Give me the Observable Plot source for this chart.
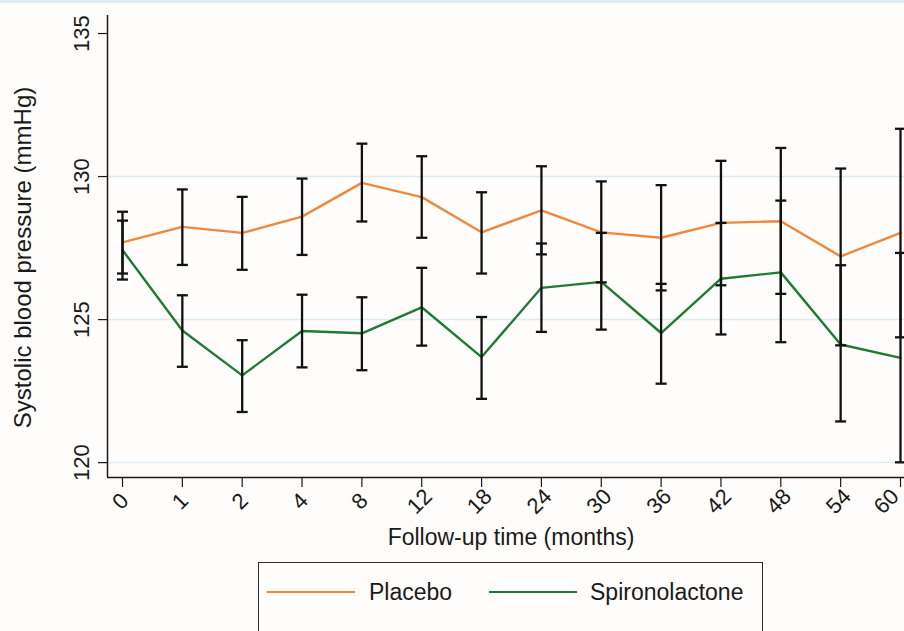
<!DOCTYPE html>
<html>
<head>
<meta charset="utf-8">
<script src="https://cdn.jsdelivr.net/npm/d3@7"></script>
<script src="https://cdn.jsdelivr.net/npm/@observablehq/plot@0.6"></script>
<style>
  html, body { margin: 0; padding: 0; background: #fffdfb; }
  #wrap { position: relative; width: 904px; height: 631px; overflow: hidden;
          font-family: "Liberation Sans", Arial, Helvetica, sans-serif; color: #1a1a1a; }
  #band { position: absolute; left: 0; top: 0; width: 904px; height: 3px; background: #dcecf4; }
  #chart { position: absolute; left: 0; top: 0; }
  #legend { position: absolute; left: 258px; top: 562px; width: 505px; height: 100px;
            border: 1.5px solid #2a2a2a; box-sizing: border-box; }
  .sw { position: absolute; height: 0; border-top: 2.5px solid; }
  .lab { position: absolute; font-size: 23px; line-height: 23px; white-space: nowrap; }
</style>
</head>
<body>
<div id="wrap">
  <div id="chart"></div>
  <div id="band"></div>
  <div id="legend"></div>
</div>
<script>
// ---- data ----
const months = ["0","1","2","4","8","12","18","24","30","36","42","48","54","60"];

const placeboMean = [127.70,128.24,128.03,128.60,129.78,129.28,128.05,128.82,128.05,127.86,128.38,128.44,127.21,128.03];
const placeboLo   = [126.61,126.91,126.74,127.26,128.43,127.86,126.61,127.28,126.30,126.02,126.20,125.90,124.10,124.38];
const placeboHi   = [128.77,129.55,129.29,129.93,131.15,130.71,129.45,130.36,129.83,129.70,130.55,131.00,130.28,131.67];

const spiroMean = [127.43,124.62,123.05,124.60,124.52,125.43,123.69,126.11,126.32,124.53,126.43,126.65,124.13,123.66];
const spiroLo   = [126.40,123.35,121.77,123.33,123.23,124.09,122.23,124.57,124.65,122.76,124.48,124.21,121.44,120.01];
const spiroHi   = [128.46,125.85,124.28,125.87,125.78,126.81,125.09,127.66,128.03,126.25,128.38,129.16,126.90,127.33];

const seriesNames = ["Placebo", "Spironolactone"];
const seriesColors = ["#f0883b", "#1f7a34"];
const yTicks = [120, 125, 130, 135];
const gridValues = [120, 125, 130];
const yTitle = "Systolic blood pressure (mmHg)";
const xTitle = "Follow-up time (months)";

// ---- build table ----
const rows = [];
months.forEach((m, i) => {
  rows.push({month: m, group: seriesNames[0], mean: placeboMean[i], lo: placeboLo[i], hi: placeboHi[i]});
  rows.push({month: m, group: seriesNames[1], mean: spiroMean[i], lo: spiroLo[i], hi: spiroHi[i]});
});

const yMin = 119.48, yMax = 135.63;
const capSymbol = { draw(ctx) { ctx.moveTo(-5.5, 0); ctx.lineTo(5.5, 0); } };
const ink = "#1a1a1a";
const font = "'Liberation Sans', Arial, Helvetica, sans-serif";
const xLabelStyle = { frameAnchor: "bottom", textAnchor: "middle", lineAnchor: "middle",
                      dy: 24, rotate: -45, fontSize: 22, fill: ink };

const chart = Plot.plot({
  width: 904,
  height: 555,
  marginLeft: 107,
  marginRight: 0,
  marginTop: 15,
  marginBottom: 78,
  style: { background: "transparent", fontFamily: font, overflow: "visible", color: ink },
  x: { type: "point", domain: months, range: [122, 900], padding: 0, round: false, label: null },
  y: { domain: [yMin, yMax], label: null },
  color: { domain: seriesNames, range: seriesColors },
  marks: [
    Plot.ruleY(gridValues, { stroke: "#dcebf2", strokeWidth: 1.5 }),
    Plot.axisY({ ticks: yTicks, tickSize: 9, tickFormat: () => "", label: null, stroke: ink, strokeWidth: 1.2 }),
    Plot.text(yTicks, { y: d => d, text: d => String(d), frameAnchor: "left", textAnchor: "middle", lineAnchor: "middle",
                        dx: -26, rotate: -90, fontSize: 22, fill: ink }),
    Plot.axisX({ tickSize: 10, tickFormat: () => "", label: null, stroke: ink, strokeWidth: 1.2 }),
    Plot.text(months.slice(0, -1), { x: d => d, text: d => d, dx: -2, ...xLabelStyle }),
    Plot.text(months.slice(-1), { x: d => d, text: d => d, dx: -14, ...xLabelStyle }),
    Plot.ruleY([yMin], { stroke: ink, strokeWidth: 1.5 }),
    Plot.ruleX([months[0]], { dx: -15, y1: yMin, y2: yMax, stroke: ink, strokeWidth: 1.5 }),
    Plot.line(rows, { x: "month", y: "mean", z: "group", stroke: "group", strokeWidth: 2.4 }),
    Plot.ruleX(rows, { x: "month", y1: "lo", y2: "hi", stroke: "#111", strokeWidth: 2.3 }),
    Plot.dot(rows, { x: "month", y: "lo", symbol: capSymbol, stroke: "#111", strokeWidth: 2.3 }),
    Plot.dot(rows, { x: "month", y: "hi", symbol: capSymbol, stroke: "#111", strokeWidth: 2.3 }),
    Plot.text([yTitle], { frameAnchor: "left", textAnchor: "middle", lineAnchor: "middle",
                          dx: -84, dy: 11, rotate: -90, fontSize: 24, fill: ink }),
    Plot.text([xTitle], { frameAnchor: "bottom", textAnchor: "middle", lineAnchor: "middle",
                          dx: 5, dy: 60, fontSize: 23, fill: ink })
  ]
});
document.getElementById("chart").appendChild(chart);

// ---- legend ----
const legend = document.getElementById("legend");
const swLeft = [8, 230], labLeft = [110, 331];
seriesNames.forEach((name, i) => {
  const sw = document.createElement("div");
  sw.className = "sw";
  sw.style.left = swLeft[i] + "px";
  sw.style.top = "28px";
  sw.style.width = "88px";
  sw.style.borderTopColor = seriesColors[i];
  legend.appendChild(sw);
  const lab = document.createElement("div");
  lab.className = "lab";
  lab.style.left = labLeft[i] + "px";
  lab.style.top = "18px";
  lab.textContent = name;
  legend.appendChild(lab);
});
</script>
</body>
</html>
